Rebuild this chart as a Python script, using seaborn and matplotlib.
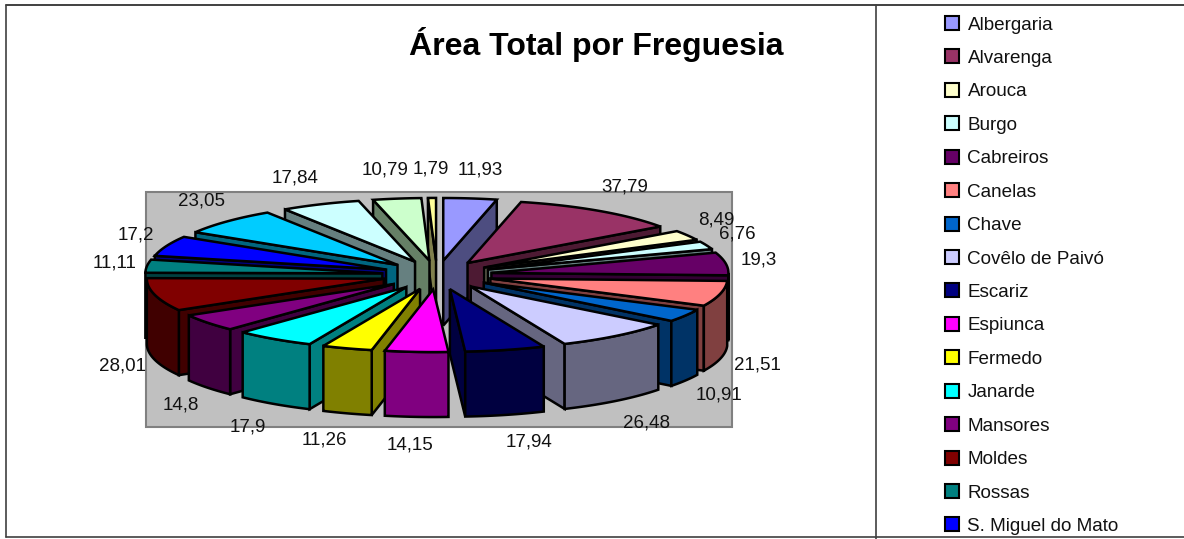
import numpy as np
import seaborn as sns
import matplotlib
matplotlib.use('Agg')
import matplotlib.pyplot as plt
from matplotlib.patches import Patch, Rectangle

# dados (as ultimas 4 freguesias ficam fora da legenda visivel)
legend_names = ['Albergaria', 'Alvarenga', 'Arouca', 'Burgo', 'Cabreiros', 'Canelas',
                'Chave', 'Covêlo de Paivó', 'Escariz', 'Espiunca', 'Fermedo', 'Janarde',
                'Mansores', 'Moldes', 'Rossas', 'S. Miguel do Mato']
areas = [11.93, 37.79, 8.49, 6.76, 19.3, 21.51, 10.91, 26.48, 17.94, 14.15,
         11.26, 17.9, 14.8, 28.01, 11.11, 17.2, 23.05, 17.84, 10.79, 1.79]
area_labels = ['11,93', '37,79', '8,49', '6,76', '19,3', '21,51', '10,91', '26,48', '17,94', '14,15',
               '11,26', '17,9', '14,8', '28,01', '11,11', '17,2', '23,05', '17,84', '10,79', '1,79']
slice_colors = ['#9999FF', '#993366', '#FFFFCC', '#CCFFFF', '#660066', '#FF8080', '#0066CC',
                '#CCCCFF', '#000080', '#FF00FF', '#FFFF00', '#00FFFF', '#800080', '#800000',
                '#008080', '#0000FF', '#00CCFF', '#CCFFFF', '#CCFFCC', '#FFFF99']

# geometria da pizza 3D, em pixeis da figura
CX, CY = 437, 275
RADIUS = 237
EXPLODE = 55
TILT = 0.264
DEPTH = 65
LINE = 1.8

sns.set_theme(style='white')
plt.rcParams['font.family'] = ['Liberation Sans', 'DejaVu Sans']
palette = sns.color_palette(slice_colors)


def darker(color):
    return tuple(c * 0.5 for c in color)


def project(t, r, ox=0.0, oy=0.0):
    return ox + r * np.sin(t), oy - r * TILT * np.cos(t)


def draw_slice(ax, t0, t1, color):
    mid = (t0 + t1) / 2
    ox, oy = project(mid, EXPLODE, CX, CY)
    ts = np.linspace(t0, t1, 40)
    ax_, ay_ = project(ts, RADIUS, ox, oy)
    side = darker(color)
    style = dict(edgecolor='black', linewidth=LINE, joinstyle='miter')

    # faces radiais: so as que viram para o observador
    for t, visible in ((t1, np.sin(t1) > 0), (t0, np.sin(t0) < 0)):
        if visible:
            ex, ey = project(t, RADIUS, ox, oy)
            ax.fill([ox, ex, ex, ox], [oy, ey, ey + DEPTH, oy + DEPTH], facecolor=side, **style)

    # parede exterior (metade da frente)
    lo, hi = max(t0, np.pi / 2), min(t1, 3 * np.pi / 2)
    if hi > lo:
        tw = np.linspace(lo, hi, 40)
        wx, wy = project(tw, RADIUS, ox, oy)
        ax.fill(np.r_[wx, wx[::-1]], np.r_[wy, wy[::-1] + DEPTH], facecolor=side, **style)

    # tampo
    ax.fill(np.r_[ox, ax_], np.r_[oy, ay_], facecolor=color, **style)


fig = plt.figure(figsize=(11.84, 5.39), dpi=100)
ax = fig.add_axes([0, 0, 1, 1])
ax.set_xlim(0, 1184)
ax.set_ylim(539, 0)
ax.axis('off')

# area do grafico e molduras
ax.add_patch(Rectangle((146, 192), 586, 235, facecolor='#C0C0C0', edgecolor='#808080', linewidth=1.5))
ax.plot([6, 1184], [5, 5], color='#202020', lw=1.2)
ax.plot([6, 6], [5, 537], color='#404040', lw=1.2)
ax.plot([876, 876], [5, 539], color='#404040', lw=1.2)
ax.plot([6, 1184], [537, 537], color='#404040', lw=1.2)

ax.text(596, 45, 'Área Total por Freguesia', ha='center', va='center',
        fontsize=23, fontweight='bold', color='black')

edges = np.r_[0, np.cumsum(areas)] / np.sum(areas) * 2 * np.pi
mids = (edges[:-1] + edges[1:]) / 2

# de tras para a frente
for i in np.argsort(-np.cos(mids)):
    draw_slice(ax, edges[i], edges[i + 1], palette[i])

for m, lab in zip(mids, area_labels):
    c = np.cos(m)
    rx = 325 + 60 * abs(c) ** 8
    x = CX + rx * np.sin(m) + (5 if c < 0 and np.sin(m) > 0 else 0)
    y = CY - 106 * c + (64 if c < 0 else 0)
    ax.text(x, y, lab, ha='center', va='center', fontsize=13.5, color='#111111')

handles = [Patch(facecolor=palette[i], edgecolor='black', linewidth=1.5) for i in range(len(legend_names))]
ax.legend(handles, legend_names, loc='upper left', bbox_to_anchor=(945, 16),
          bbox_transform=ax.transData, frameon=False, fontsize=13.6, borderpad=0, borderaxespad=0,
          handlelength=0.76, handleheight=0.76, handletextpad=0.43, labelspacing=0.84,
          labelcolor='#111111')

fig.savefig('out.png', dpi=100)
